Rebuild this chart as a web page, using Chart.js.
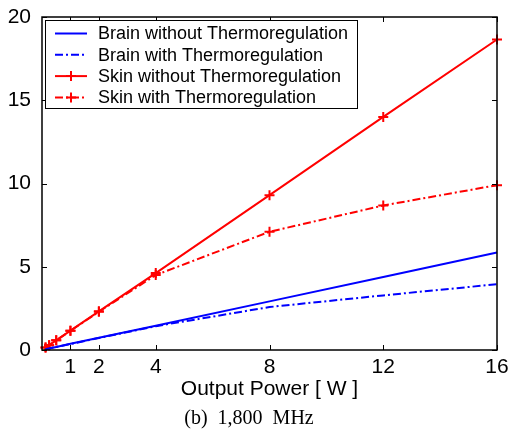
<!DOCTYPE html>
<html>
<head>
<meta charset="utf-8">
<script src="https://cdn.jsdelivr.net/npm/chart.js@4.4.0/dist/chart.umd.min.js"></script>
<style>
  body { margin: 0; background: #fff; }
  #wrap { width: 514px; height: 432px; }
</style>
</head>
<body>
<div id="wrap"><canvas id="powerChart" width="514" height="432"></canvas></div>
<script>
// output power [W] and temperature rise for each case
const power = [0.125, 0.25, 0.5, 1, 2, 4, 8, 12, 16];
const brainNoReg = [0.05, 0.09, 0.18, 0.37, 0.73, 1.46, 2.92, 4.38, 5.85];
const brainReg = [0.05, 0.09, 0.18, 0.36, 0.72, 1.43, 2.58, 3.28, 3.95];
const skinNoReg = [0.15, 0.29, 0.58, 1.16, 2.32, 4.62, 9.3, 14.0, 18.65];
const skinReg = [0.15, 0.29, 0.58, 1.15, 2.3, 4.5, 7.1, 8.68, 9.9];
const xTicks = [1, 2, 4, 8, 12, 16];
const yTicks = [0, 5, 10, 15, 20];
const labels = ['Brain without Thermoregulation', 'Brain with Thermoregulation',
                'Skin without Thermoregulation', 'Skin with Thermoregulation'];

const BLUE = '#0000ff';
const RED = '#ff0000';
const DASHDOT = [8, 3, 2, 3];

function pts(vals) {
    return power.map((p, i) => ({x: p, y: vals[i]}));
}

function series(label, vals, color, dash, marker) {
    return {
        label: label,
        data: pts(vals),
        borderColor: color,
        backgroundColor: color,
        borderWidth: 2,
        borderDash: dash,
        pointStyle: marker ? 'cross' : false,
        pointRadius: marker ? 5 : 0,
        pointBorderWidth: 2,
        pointBorderColor: color,
        tension: 0,
        clip: false
    };
}

// matlab-like frame with inward ticks on all four sides
const framePlugin = {
    id: 'frame',
    afterDatasetsDraw(chart) {
        const {ctx, chartArea: a, scales: {x, y}} = chart;
        ctx.save();
        ctx.strokeStyle = '#000';
        ctx.lineWidth = 1;
        ctx.beginPath();
        for (const t of xTicks) {
            const px = Math.round(x.getPixelForValue(t)) + 0.5;
            ctx.moveTo(px, a.bottom); ctx.lineTo(px, a.bottom - 5);
            ctx.moveTo(px, a.top); ctx.lineTo(px, a.top + 5);
        }
        for (const t of yTicks) {
            const py = Math.round(y.getPixelForValue(t)) + 0.5;
            ctx.moveTo(a.left, py); ctx.lineTo(a.left + 5, py);
            ctx.moveTo(a.right, py); ctx.lineTo(a.right - 5, py);
        }
        ctx.stroke();
        ctx.lineWidth = 1.5;
        ctx.strokeRect(a.left, a.top, a.right - a.left, a.bottom - a.top);
        ctx.restore();
    }
};

// boxed legend in the upper left corner
const legendBox = {
    id: 'legendBox',
    afterDraw(chart) {
        const ctx = chart.ctx;
        const bx = 45, by = 20, bw = 312, bh = 88;
        ctx.save();
        ctx.fillStyle = '#fff';
        ctx.fillRect(bx, by, bw, bh);
        ctx.strokeStyle = '#000';
        ctx.lineWidth = 1;
        ctx.strokeRect(bx + 0.5, by + 0.5, bw, bh);
        ctx.font = '18px "Liberation Sans", Arial, sans-serif';
        ctx.textBaseline = 'middle';
        chart.data.datasets.forEach((ds, i) => {
            const yy = 33.5 + i * 21.3;
            ctx.strokeStyle = ds.borderColor;
            ctx.lineWidth = 2;
            ctx.setLineDash(ds.borderDash || []);
            ctx.beginPath();
            ctx.moveTo(55, yy); ctx.lineTo(87, yy);
            ctx.stroke();
            ctx.setLineDash([]);
            if (ds.pointStyle) {
                ctx.beginPath();
                ctx.moveTo(71, yy - 5); ctx.lineTo(71, yy + 5);
                ctx.moveTo(66, yy); ctx.lineTo(76, yy);
                ctx.stroke();
            }
            ctx.fillStyle = '#000';
            ctx.fillText(ds.label, 98, yy + 1);
        });
        // caption under the axis
        ctx.font = '20px "Liberation Serif", "Times New Roman", serif';
        ctx.textAlign = 'center';
        ctx.fillText('(b)  1,800  MHz', 249, 419);
        ctx.restore();
    }
};

const ctx = document.getElementById('powerChart');
const chart = new Chart(ctx, {
    type: 'line',
    data: {
        datasets: [
            series(labels[0], brainNoReg, BLUE, [], false),
            series(labels[1], brainReg, BLUE, DASHDOT, false),
            series(labels[2], skinNoReg, RED, [], true),
            series(labels[3], skinReg, RED, DASHDOT, true)
        ]
    },
    options: {
        responsive: false,
        animation: false,
        devicePixelRatio: 1,
        layout: { padding: { top: 17, right: 17, left: 0, bottom: 0 } },
        plugins: {
            legend: { display: false },
            tooltip: { enabled: false }
        },
        scales: {
            x: {
                type: 'linear',
                min: 0,
                max: 16,
                grid: { display: false },
                border: { display: false },
                afterBuildTicks: (scale) => { scale.ticks = xTicks.map(v => ({value: v})); },
                afterFit: (scale) => { scale.height = 82; },
                ticks: {
                    color: '#000',
                    padding: -3,
                    font: { family: '"Liberation Sans", Arial, sans-serif', size: 21 }
                },
                title: {
                    display: true,
                    text: 'Output Power [ W ]',
                    color: '#000',
                    font: { family: '"Liberation Sans", Arial, sans-serif', size: 21 },
                    padding: { top: 0, bottom: 30 }
                }
            },
            y: {
                min: 0,
                max: 20,
                grid: { display: false },
                border: { display: false },
                afterBuildTicks: (scale) => { scale.ticks = yTicks.map(v => ({value: v})); },
                afterFit: (scale) => { scale.width = 42; },
                ticks: {
                    color: '#000',
                    padding: 3,
                    font: { family: '"Liberation Sans", Arial, sans-serif', size: 21 }
                }
            }
        }
    },
    plugins: [framePlugin, legendBox]
});
</script>
</body>
</html>
